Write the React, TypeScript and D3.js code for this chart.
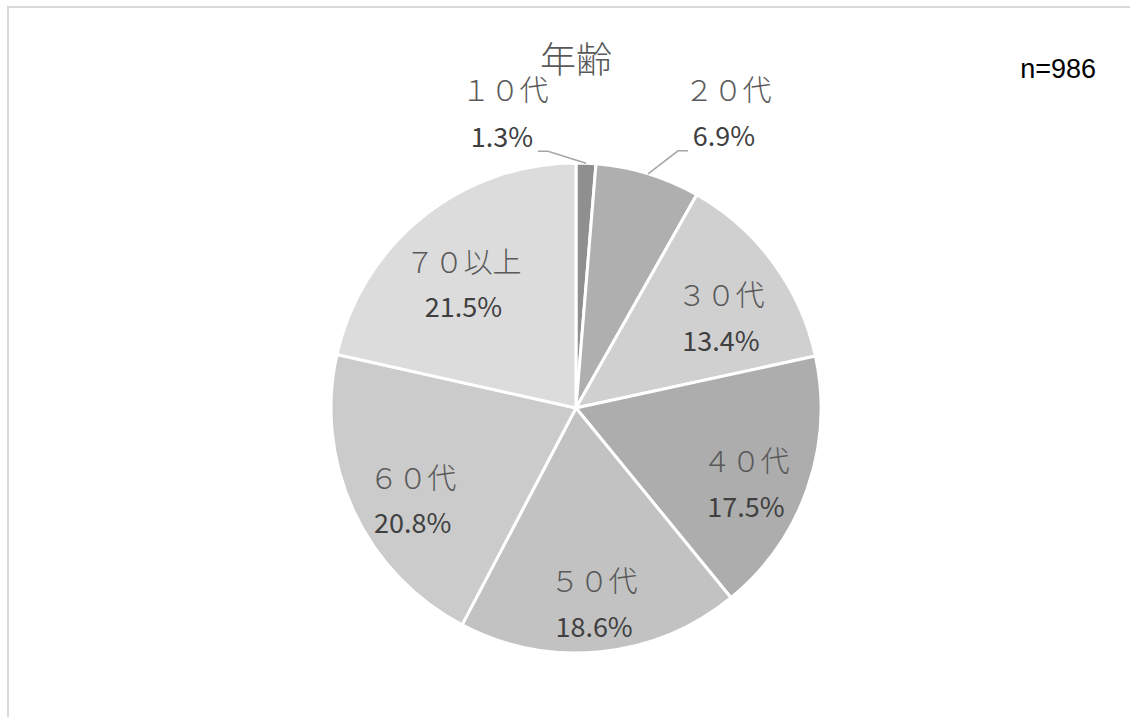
import React, { useEffect, useRef } from 'react';
import * as d3 from 'd3';

const categories = ['１０代', '２０代', '３０代', '４０代', '５０代', '６０代', '７０以上'];
const shares = [1.3, 6.9, 13.4, 17.5, 18.6, 20.8, 21.5];
const sliceColors = ['#8f8f8f', '#afafaf', '#d0d0d0', '#adadad', '#c2c2c2', '#cbcbcb', '#dcdcdc'];
const title = '年齢';
const sampleNote = 'n=986';

// labels that Excel pushed outside the pie, offset of the % line from the slice edge
const outsideOffsets: Record<string, [number, number]> = {
  '１０代': [-84, -28],
  '２０代': [76, -39],
};

const W = 1130;
const H = 717;
const CX = 576;
const CY = 408;
const R = 245;

interface Slice {
  label: string;
  value: number;
  color: string;
}

const data: Slice[] = categories.map((c, i) => ({ label: c, value: shares[i], color: sliceColors[i] }));

const App: React.FC = () => {
  const svgRef = useRef<SVGSVGElement>(null);

  useEffect(() => {
    const svg = d3.select(svgRef.current)
      .attr('width', W)
      .attr('height', H);
    svg.selectAll('*').remove();

    // frame of the chart area
    svg.append('path')
      .attr('d', `M8,${H} L8,7 L${W},7`)
      .attr('fill', 'none')
      .attr('stroke', '#d9d9d9')
      .attr('stroke-width', 2);

    const jp = '"Noto Sans CJK JP", "Noto Sans", sans-serif';

    svg.append('text')
      .attr('x', CX)
      .attr('y', 57)
      .attr('text-anchor', 'middle')
      .attr('dominant-baseline', 'central')
      .attr('font-family', jp)
      .attr('font-weight', 300)
      .attr('font-size', 36)
      .attr('fill', '#595959')
      .text(title);

    svg.append('text')
      .attr('x', 1096)
      .attr('y', 78)
      .attr('text-anchor', 'end')
      .attr('font-family', '"Liberation Sans", Arial, sans-serif')
      .attr('font-size', 27)
      .attr('fill', '#000')
      .text(sampleNote);

    const pie = d3.pie<Slice>().value((d) => d.value).sort(null);
    const arcs = pie(data);

    const arc = d3.arc<d3.PieArcDatum<Slice>>().innerRadius(0).outerRadius(R);
    const labelArc = d3.arc<d3.PieArcDatum<Slice>>().innerRadius(180).outerRadius(180);
    const edgeArc = d3.arc<d3.PieArcDatum<Slice>>().innerRadius(R).outerRadius(R);

    const g = svg.append('g').attr('transform', `translate(${CX},${CY})`);

    g.selectAll('path.slice')
      .data(arcs)
      .join('path')
      .attr('class', 'slice')
      .attr('d', (d) => arc(d))
      .attr('fill', (d) => d.data.color)
      .attr('stroke', '#fff')
      .attr('stroke-width', 3)
      .attr('stroke-linejoin', 'round');

    const fmt = (v: number) => `${v.toFixed(1)}%`;

    arcs.forEach((d) => {
      const off = outsideOffsets[d.data.label];
      let nx: number, ny: number, px: number, py: number;
      if (off) {
        const [ex, ey] = edgeArc.centroid(d);
        px = ex + off[0];
        py = ey + off[1];
        nx = px + (off[0] < 0 ? 3 : 4);
        ny = py - 47;
        const endX = px + (off[0] < 0 ? 36 : -36);
        const endY = py + 16;
        const elbowX = endX + (off[0] < 0 ? 10 : -10);
        g.append('polyline')
          .attr('points', `${ex},${ey} ${elbowX},${endY} ${endX},${endY}`)
          .attr('fill', 'none')
          .attr('stroke', '#a6a6a6')
          .attr('stroke-width', 1.5);
      } else {
        const [cx, cy] = labelArc.centroid(d);
        nx = cx;
        ny = cy - 8;
        px = cx;
        py = cy + 38;
      }
      g.append('text')
        .attr('x', nx)
        .attr('y', ny)
        .attr('text-anchor', 'middle')
        .attr('dominant-baseline', 'central')
        .attr('font-family', jp)
        .attr('font-weight', 300)
        .attr('font-size', 29)
        .attr('fill', '#595959')
        .text(d.data.label);
      g.append('text')
        .attr('x', px)
        .attr('y', py)
        .attr('text-anchor', 'middle')
        .attr('dominant-baseline', 'central')
        .attr('font-family', jp)
        .attr('font-size', 27)
        .attr('fill', '#404040')
        .text(fmt(d.data.value));
    });

    return () => {
      svg.selectAll('*').remove();
    };
  }, []);

  return (
    <svg
      ref={svgRef}
      style={{ position: 'absolute', left: 0, top: 0, background: '#fff' }}
    ></svg>
  );
};

export default App;
